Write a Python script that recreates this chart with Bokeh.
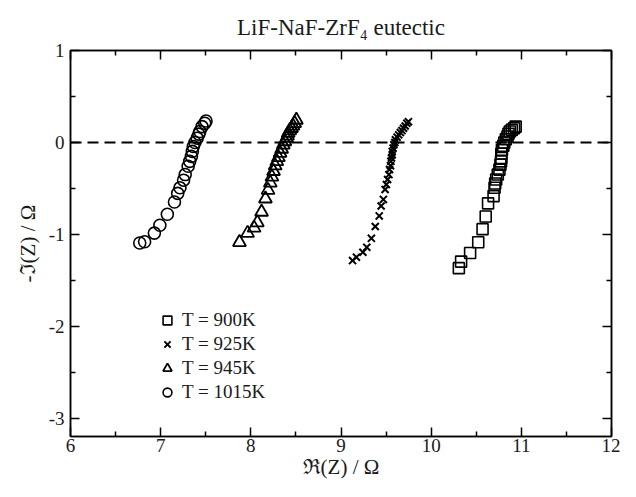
from bokeh.plotting import figure
from bokeh.models import (Span, Legend, LegendItem, LinearAxis, FixedTicker, Range1d,
                          CustomJSTickFormatter)
from bokeh.embed import file_html
from bokeh.resources import INLINE

# ---- data ----
x900 = [10.937, 10.919, 10.894, 10.872, 10.857, 10.846, 10.828, 10.811, 10.800, 10.785,
        10.778, 10.778, 10.775, 10.768, 10.757, 10.739, 10.721, 10.710, 10.703, 10.692,
        10.631, 10.605, 10.570, 10.522, 10.432, 10.332, 10.307]
y900 = [0.172, 0.154, 0.136, 0.118, 0.093, 0.064, 0.035, -0.001, -0.037, -0.080,
        -0.123, -0.170, -0.206, -0.242, -0.296, -0.350, -0.404, -0.447, -0.494, -0.584,
        -0.663, -0.807, -0.944, -1.087, -1.203, -1.297, -1.368]

x925 = [9.748, 9.730, 9.712, 9.694, 9.676, 9.658, 9.640, 9.622, 9.604, 9.597,
        9.586, 9.578, 9.568, 9.568, 9.560, 9.553, 9.549, 9.538, 9.532, 9.517,
        9.503, 9.489, 9.470, 9.445, 9.424, 9.380, 9.337, 9.286, 9.243, 9.171, 9.128]
y925 = [0.226, 0.208, 0.179, 0.154, 0.129, 0.107, 0.082, 0.057, 0.028, -0.001,
        -0.026, -0.062, -0.098, -0.134, -0.170, -0.206, -0.253, -0.296, -0.350, -0.404,
        -0.458, -0.512, -0.620, -0.692, -0.800, -0.915, -1.044, -1.141, -1.195, -1.249, -1.286]

x945 = [8.505, 8.486, 8.468, 8.451, 8.432, 8.414, 8.407, 8.396, 8.378, 8.360,
        8.342, 8.324, 8.306, 8.288, 8.270, 8.252, 8.234, 8.216, 8.191, 8.162,
        8.119, 8.072, 8.036, 7.964, 7.874]
y945 = [0.244, 0.208, 0.179, 0.154, 0.129, 0.100, 0.071, 0.046, 0.010, -0.026,
        -0.072, -0.116, -0.163, -0.206, -0.253, -0.314, -0.375, -0.440, -0.519, -0.613,
        -0.757, -0.872, -0.930, -0.987, -1.087]

x1015 = [7.503, 7.489, 7.459, 7.434, 7.423, 7.405, 7.380, 7.362, 7.351, 7.341,
         7.322, 7.305, 7.272, 7.254, 7.214, 7.189, 7.153, 7.074, 6.991, 6.930,
         6.822, 6.768]
y1015 = [0.233, 0.208, 0.172, 0.118, 0.090, 0.046, -0.001, -0.044, -0.098, -0.152,
         -0.206, -0.260, -0.350, -0.411, -0.494, -0.555, -0.649, -0.782, -0.901, -0.987,
         -1.081, -1.095]

labels = ["T = 900K", "T = 925K", "T = 945K", "T = 1015K"]
x_ticks = [6, 7, 8, 9, 10, 11, 12]
x_minor = [6.5, 7.5, 8.5, 9.5, 10.5, 11.5]
y_ticks = [-3, -2, -1, 0, 1]
y_minor = [-2.5, -1.5, -0.5, 0.5]
title_text = "LiF-NaF-ZrF\u2084 eutectic"

FONT = "Liberation Serif"
INK = "#1a1a1a"

p = figure(width=620, height=481, output_backend="svg", toolbar_location=None,
           x_range=Range1d(6, 12), y_range=Range1d(-3.2, 1),
           min_border_left=70, min_border_right=9, min_border_top=50,
           min_border_bottom=40)
p.title.text = title_text
p.title.align = "center"
p.title.standoff = 21
p.title.text_font = FONT
p.title.text_font_size = "23px"
p.title.text_font_style = "normal"
p.title.text_color = INK

p.grid.visible = False
p.outline_line_color = "black"
p.outline_line_width = 1.5

plain = CustomJSTickFormatter(code="return tick.toString();")

for ax in (p.xaxis[0], p.yaxis[0]):
    ax.major_tick_in = 9
    ax.major_tick_out = 0
    ax.minor_tick_in = 5
    ax.minor_tick_out = 0
    ax.axis_line_width = 1.5
    ax.major_tick_line_width = 1.5
    ax.minor_tick_line_width = 1.5
    ax.formatter = plain
    ax.major_label_text_font = FONT
    ax.major_label_text_font_size = "19px"
    ax.major_label_text_color = INK
    ax.axis_label_text_font = FONT
    ax.axis_label_text_font_size = "21px"
    ax.axis_label_text_font_style = "normal"
    ax.axis_label_text_color = INK

p.xaxis[0].ticker = FixedTicker(ticks=x_ticks, minor_ticks=x_minor)
p.yaxis[0].ticker = FixedTicker(ticks=y_ticks, minor_ticks=y_minor)
p.xaxis[0].axis_label = "\u211c(Z) / \u03a9"
p.yaxis[0].axis_label = "-\u2111(Z) / \u03a9"
p.xaxis[0].major_label_standoff = 2
p.yaxis[0].major_label_standoff = 6
p.xaxis[0].axis_label_standoff = 0
p.yaxis[0].axis_label_standoff = 6

# mirrored axes (ticks only, no labels)
blank = CustomJSTickFormatter(code="return '';")
top = LinearAxis(ticker=FixedTicker(ticks=x_ticks, minor_ticks=x_minor), formatter=blank)
right = LinearAxis(ticker=FixedTicker(ticks=y_ticks, minor_ticks=y_minor), formatter=blank)
for ax in (top, right):
    ax.major_tick_in = 9
    ax.major_tick_out = 0
    ax.minor_tick_in = 5
    ax.minor_tick_out = 0
    ax.axis_line_width = 1.5
    ax.major_tick_line_width = 1.5
    ax.minor_tick_line_width = 1.5
    ax.major_label_text_font_size = "1px"
    ax.major_label_standoff = 0
p.add_layout(top, "above")
p.add_layout(right, "right")

p.add_layout(Span(location=0, dimension="width", line_color="black",
                  line_width=2, line_dash="11 6"))

r1 = p.scatter(x900, y900, marker="square", size=11, fill_color=None,
               line_color="black", line_width=1.6)
r2 = p.scatter(x925, y925, marker="x", size=10, line_color="black", line_width=2)
r3 = p.scatter(x945, y945, marker="triangle", size=13, fill_color=None,
               line_color="black", line_width=1.8)
r4 = p.scatter(x1015, y1015, marker="circle", size=12, fill_color=None,
               line_color="black", line_width=1.6)

legend = Legend(items=[LegendItem(label=l, renderers=[r]) for l, r in
                       zip(labels, [r1, r2, r3, r4])],
                location=(86, 32), orientation="vertical",
                border_line_color=None, background_fill_alpha=0,
                padding=0, margin=0, spacing=0,
                glyph_width=22, glyph_height=24, label_height=24,
                label_standoff=4, label_text_font=FONT,
                label_text_font_size="19px", label_text_color=INK)
p.add_layout(legend, "center")

open("out.html", "w").write(file_html(p, INLINE))
